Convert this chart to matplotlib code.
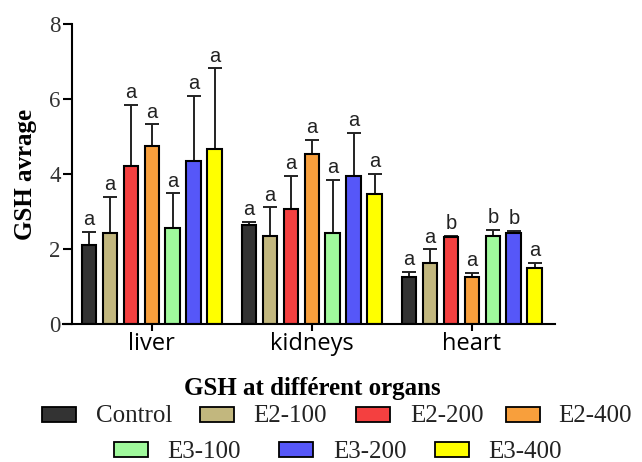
import matplotlib.pyplot as plt
import numpy as np
from matplotlib.patches import Rectangle

organs = ["liver", "kidneys", "heart"]
groups = ["Control", "E2-100", "E2-200", "E2-400", "E3-100", "E3-200", "E3-400"]
colors = ["#333333", "#c2b77e", "#f44040", "#f89f3c", "#a0f99c", "#5657f8", "#ffff00"]

# mean GSH per group, one row per organ
means = [
    [2.11, 2.44, 4.21, 4.75, 2.56, 4.36, 4.66],
    [2.64, 2.36, 3.08, 4.53, 2.44, 3.95, 3.48],
    [1.26, 1.64, 2.31, 1.25, 2.34, 2.44, 1.49],
]
# upper end of the error bars
upper = [
    [2.46, 3.40, 5.85, 5.33, 3.49, 6.09, 6.82],
    [2.72, 3.11, 3.96, 4.92, 3.84, 5.10, 4.00],
    [1.39, 1.99, 2.36, 1.37, 2.52, 2.49, 1.63],
]
letters = [
    ["a", "a", "a", "a", "a", "a", "a"],
    ["a", "a", "a", "a", "a", "a", "a"],
    ["a", "a", "b", "a", "b", "b", "a"],
]
yticks = [0, 2, 4, 6, 8]

serif = "Liberation Serif"
W, H = 642, 462

fig = plt.figure(figsize=(W / 100, H / 100), dpi=100)
ax = fig.add_axes([0.098, 0.2987, 0.7664, 0.6493])

# move the spine first: set_position rebuilds the ticks
ax.spines["top"].set_visible(False)
ax.spines["right"].set_visible(False)
ax.spines["left"].set_position(("data", -0.5))
ax.spines["left"].set_linewidth(1.5)
ax.spines["bottom"].set_linewidth(1.5)

step = 0.131
width = 0.092
x = np.arange(len(organs))
for j, (name, col) in enumerate(zip(groups, colors)):
    pos = x + (j - 3) * step
    m = np.array([means[i][j] for i in range(len(organs))])
    u = np.array([upper[i][j] for i in range(len(organs))])
    ax.bar(pos, m, width, color=col, edgecolor="black", linewidth=1.5, zorder=2)
    ax.errorbar(pos, m, yerr=[np.zeros_like(m), u - m], fmt="none",
                ecolor="#222222", elinewidth=1.4, capsize=5, capthick=1.4, zorder=1)
    for i in range(len(organs)):
        ax.text(pos[i], u[i] + 0.07, letters[i][j], ha="center", va="bottom",
                fontsize=14.5, family="Liberation Sans", color="#222222")

ax.set_xlim(-0.556, 2.519)
ax.set_ylim(0, 8)
ax.set_yticks(yticks, labels=[str(v) for v in yticks],
              family=serif, fontsize=16.5, color="#333333")
ax.set_xticks(x, labels=organs, family="Open Sans", fontsize=17)
ax.tick_params(axis="y", length=6.5, width=1.5, pad=1.5)
ax.tick_params(axis="x", length=5, width=1.5, pad=1)

ax.set_ylabel("GSH avrage", family=serif, fontweight="bold", fontsize=18, labelpad=9)
fig.text(312 / W, 1 - 388 / H, "GSH at différent organs", family=serif,
         fontweight="bold", fontsize=18, ha="center", va="center")

# legend drawn by hand: two centred rows of swatch + label
legend_rows = [
    (414, [(42, 96), (200, 253), (356, 410), (506, 558)], groups[:4], colors[:4]),
    (449, [(114, 167), (279, 333), (435, 488)], groups[4:], colors[4:]),
]
for yc, spots, names, cols in legend_rows:
    for (hx, tx), name, col in zip(spots, names, cols):
        fig.patches.append(Rectangle((hx / W, 1 - (yc + 7.5) / H), 34 / W, 15 / H,
                                     transform=fig.transFigure, facecolor=col,
                                     edgecolor="black", linewidth=1.3))
        fig.text(tx / W, 1 - yc / H, name, family=serif, fontsize=18,
                 color="#222222", ha="left", va="center_baseline")

fig.savefig("out.png", dpi=100)
